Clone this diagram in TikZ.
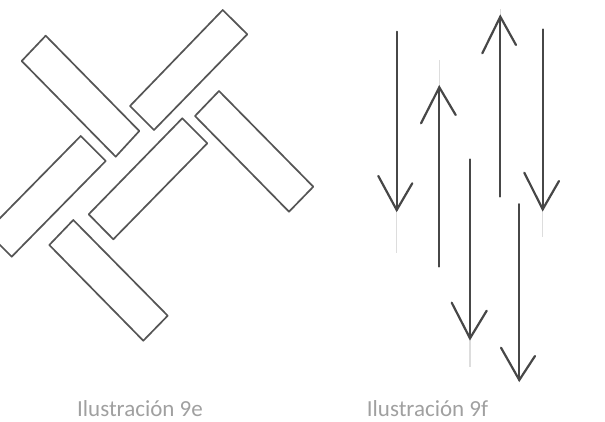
\documentclass[tikz,border=0pt]{standalone}
\usepackage{fontspec}
\setmainfont{Carlito}
\definecolor{plankgray}{HTML}{555555}
\definecolor{arrowgray}{HTML}{474747}
\definecolor{ghostgray}{HTML}{DDDDDD}
\definecolor{labelgray}{HTML}{A0A0A0}
\tikzset{
  plank/.style={draw=plankgray, line width=1.7pt, line join=round},
  shaft/.style={draw=arrowgray, line width=1.9pt, line cap=round},
  wing/.style={draw=arrowgray, line width=2.2pt, line cap=round},
  ghost/.style={draw=ghostgray, line width=1.2pt},
  caption/.style={text=labelgray, font=\fontsize{23}{27}\selectfont, anchor=base, inner sep=0pt}
}
\begin{document}
\begin{tikzpicture}[x=1pt,y=-1pt]
\useasboundingbox (0,0) rectangle (605,422);
\begin{scope}
\clip (0,0) rectangle (605,422);
% planks (illustration 9e)
\draw[plank] (45.7,35.7) -- (139.3,131) -- (115.7,156.7) -- (21.7,61) -- cycle;
\draw[plank] (222.7,10) -- (247.3,34.3) -- (154,130) -- (130,106) -- cycle;
\draw[plank] (80.7,136) -- (105.7,161) -- (11.7,256.7) -- (-13.3,231.7) -- cycle;
\draw[plank] (182.3,118.3) -- (207.3,143.3) -- (113.3,239.3) -- (88.7,214.3) -- cycle;
\draw[plank] (219,91) -- (313.3,186.7) -- (289,211.7) -- (195,116) -- cycle;
\draw[plank] (73.3,220) -- (167.7,315.7) -- (143.3,340.7) -- (49.3,245) -- cycle;
\end{scope}
% arrows (illustration 9f)
\coordinate (a1s) at (396.7,31.7);  \coordinate (a1t) at (396.7,210);
\coordinate (a1l) at (378.3,176);   \coordinate (a1r) at (412.3,183.3);
\coordinate (a1g) at (396.7,253);
\coordinate (a2s) at (439.3,266.7); \coordinate (a2t) at (439.3,87.3);
\coordinate (a2l) at (421,123.3);   \coordinate (a2r) at (455.7,115);
\coordinate (a2g) at (439.3,60);
\coordinate (a3s) at (470,159.3);   \coordinate (a3t) at (470,338.3);
\coordinate (a3l) at (451.7,302.7); \coordinate (a3r) at (486.7,310.7);
\coordinate (a3g) at (470,366.7);
\coordinate (a4s) at (500.3,196.7); \coordinate (a4t) at (500.3,16.7);
\coordinate (a4l) at (482.3,53.3);  \coordinate (a4r) at (516,45);
\coordinate (a4g) at (500.3,9);
\coordinate (a5s) at (542.7,29.3);  \coordinate (a5t) at (542.7,209.3);
\coordinate (a5l) at (524.3,172.7); \coordinate (a5r) at (559,181);
\coordinate (a5g) at (542.7,236.7);
\coordinate (a6s) at (519.3,204);   \coordinate (a6t) at (519.3,380);
\coordinate (a6l) at (501,347.7);   \coordinate (a6r) at (535,356);
\foreach \i in {1,2,3,4,5} {\draw[ghost] (a\i t) -- (a\i g);}
\foreach \i in {1,2,3,4,5,6} {
  \draw[shaft] (a\i s) -- (a\i t);
  \draw[wing] (a\i l) -- (a\i t) -- (a\i r);
}
% captions
\node[caption] (cap9e) at (140,416.5) {Ilustración 9e};
\node[caption] (cap9f) at (427.5,416.5) {Ilustración 9f};
\end{tikzpicture}
\end{document}
